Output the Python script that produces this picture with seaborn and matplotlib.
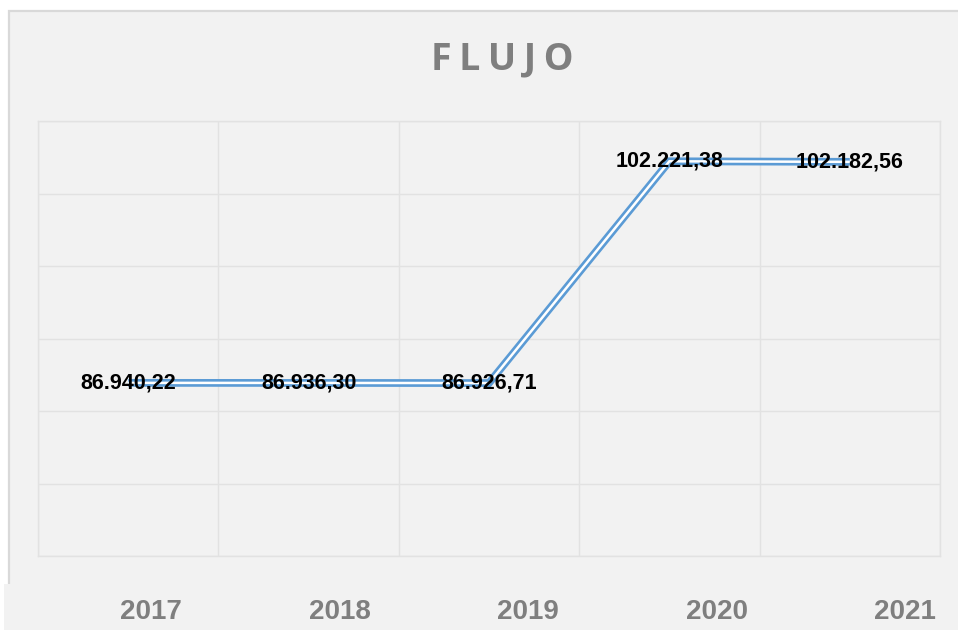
"""
FLUJO line chart (Excel-style double line) recreated with seaborn.
"""

import matplotlib
matplotlib.use("Agg")
import matplotlib.pyplot as plt
import numpy as np
import seaborn as sns
from matplotlib.patches import Rectangle

YEARS = ["2017", "2018", "2019", "2020", "2021"]
FLUJO = [86940.22, 86936.30, 86926.71, 102221.38, 102182.56]

Y_MIN, Y_MAX, Y_STEP = 75000, 105000, 5000

BG = "#f2f2f2"
GRID = "#e2e2e2"
FRAME = "#d9d9d9"
LINE_BLUE = "#5b9bd5"
GREY_TEXT = "#7f7f7f"

W, H = 958, 630


def fmt_es(v):
    """86940.22 -> '86.940,22'"""
    return f"{v:,.2f}".replace(",", "X").replace(".", ",").replace("X", ".")


def main():
    sns.set_theme(style="white")
    plt.rcParams["font.family"] = ["Liberation Sans", "DejaVu Sans"]

    fig = plt.figure(figsize=(W / 100, H / 100), dpi=100)
    fig.patch.set_facecolor("white")

    # outer chart frame
    frame = Rectangle((8.5 / W, -0.02), 1.0, (H - 10.5) / H + 0.02,
                      transform=fig.transFigure, facecolor=BG, edgecolor=FRAME,
                      linewidth=1.6, zorder=-1)
    fig.patches.append(frame)

    # plot area
    ax = fig.add_axes([38 / W, 1 - 556 / H, (940 - 38) / W, (556 - 121) / H])
    ax.set_facecolor(BG)
    x = np.arange(len(YEARS))

    sns.lineplot(x=x, y=FLUJO, ax=ax, color=LINE_BLUE, linewidth=5.6,
                 solid_capstyle="butt", solid_joinstyle="miter", zorder=3)
    sns.lineplot(x=x, y=FLUJO, ax=ax, color="white", linewidth=1.8,
                 solid_capstyle="butt", solid_joinstyle="miter", zorder=4)

    for xi, v in zip(x, FLUJO):
        ax.text(xi, v, fmt_es(v), ha="center", va="center", fontsize=15.5,
                fontweight="bold", color="black", zorder=5)

    ax.set_xlim(-0.5, len(YEARS) - 0.5)
    ax.set_ylim(Y_MIN, Y_MAX)
    ax.set_xticks(np.arange(-0.5, len(YEARS), 1))
    ax.set_yticks(np.arange(Y_MIN, Y_MAX + 1, Y_STEP))
    ax.set_xticklabels([])
    ax.set_yticklabels([])
    ax.tick_params(length=0)
    ax.grid(True, color=GRID, linewidth=1.0)
    for s in ax.spines.values():
        s.set_color(GRID)
        s.set_linewidth(1.0)
    ax.set_xlabel("")
    ax.set_ylabel("")

    # lower strip with the year labels
    ax2 = fig.add_axes([4 / W, 0, (W - 4) / W, 46 / H])
    ax2.set_facecolor(BG)
    ax2.set_xlim(-0.78, 4.281)
    ax2.set_ylim(0, 1)
    ax2.set_xticks([])
    ax2.set_yticks([])
    for s in ax2.spines.values():
        s.set_visible(False)
    for i, yr in enumerate(YEARS):
        ax2.text(i, 0.39, yr, ha="center", va="center", fontsize=20,
                 fontweight="bold", color=GREY_TEXT)

    fig.text(502 / W, 1 - 59 / H, "F\u2009L\u2009U\u2009J\u2009O", ha="center",
             va="center", fontsize=27, fontweight="bold", color=GREY_TEXT,
             family=["Open Sans", "DejaVu Sans"])

    fig.savefig("out.png", dpi=100, facecolor=fig.get_facecolor())
    plt.close(fig)


if __name__ == "__main__":
    main()
